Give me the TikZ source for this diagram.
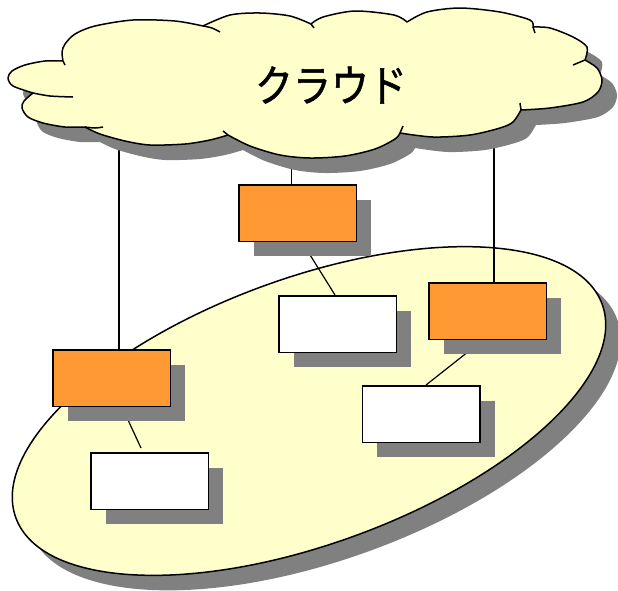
\documentclass[tikz,border=0pt]{standalone}
\usepackage{fontspec}
\usepackage{graphicx}
\newfontfamily\jpfont[FakeBold=1.2]{Noto Sans CJK JP}
\usetikzlibrary{shadows,calc}
\definecolor{cloudfill}{HTML}{FFFFCC}
\definecolor{boxorange}{HTML}{FF9933}
\definecolor{shadowgray}{HTML}{808080}
\pgfdeclarelayer{back}
\pgfdeclarelayer{mid}
\pgfsetlayers{back,mid,main}
\tikzset{
  outl/.style={draw=black, line width=1.5pt},
  boxbase/.style={draw=black, line width=1.5pt, minimum width=117.5pt, minimum height=56.5pt, inner sep=0pt,
    drop shadow={shadow xshift=15pt, shadow yshift=-15pt, fill=shadowgray, opacity=1}},
  orangebox/.style={boxbase, fill=boxorange},
  whitebox/.style={boxbase, fill=white},
  conn/.style={draw=black, line width=1.2pt},
  inner/.style={draw=black, line width=1.5pt},
}
\def\cloudp{plot[smooth] coordinates {(203,26) (175,21) (133,20) (95,26) (75,34) (65,44) (62,52) (63,61)}
 -- plot[smooth] coordinates {(63,61) (45,61) (25,65) (12,71) (8,78) (13,86) (33,93)}
 -- plot[smooth] coordinates {(33,93) (24,101) (22,108) (28,117) (43,123) (65,127) (85,127)}
 -- plot[smooth] coordinates {(85,127) (100,134) (125,141) (150,145) (185,144) (210,140) (228,135)}
 -- plot[smooth] coordinates {(228,135) (250,146) (280,155) (310,158) (345,156) (375,149) (395,139) (400,133)}
 -- plot[smooth] coordinates {(400,133) (433,137) (470,135) (500,128) (513,122) (521,110)}
 -- plot[smooth] coordinates {(521,110) (550,108) (583,102) (598,92) (602,80) (597,68) (585,60)}
 -- plot[smooth] coordinates {(585,60) (587,47) (573,37) (550,28) (533,27)}
 -- plot[smooth] coordinates {(533,27) (530,20) (500,12) (460,8) (427,12) (407,22)}
 -- plot[smooth] coordinates {(407,22) (394,15) (355,11) (323,17) (311,24)}
 -- plot[smooth] coordinates {(311,24) (290,16) (260,13) (230,15) (203,26)}
 -- cycle}
\begin{document}
\begin{tikzpicture}[x=1pt,y=-1pt]
\useasboundingbox (0,0) rectangle (618,590);
% ellipse (network area)
\begin{pgfonlayer}{back}
  \fill[shadowgray, rotate around={20:(324,426)}] (324,426) ellipse [x radius=312, y radius=133];
  \filldraw[fill=cloudfill, outl, rotate around={20:(309,411)}] (309,411) ellipse [x radius=312, y radius=133];
\end{pgfonlayer}
% cloud
\fill[shadowgray, shift={(15,15)}] \cloudp;
\filldraw[fill=cloudfill, outl, line join=round] \cloudp;
\draw[inner] plot[smooth] coordinates {(203,26) (212,28) (220,32)};
\draw[inner] (63,61) -- (65,65);
\draw[inner] plot[smooth] coordinates {(33,93) (50,96) (73,97)};
\draw[inner] plot[smooth] coordinates {(85,127) (95,128) (103,127)};
\draw[inner] (228,135) -- (223,131);
\draw[inner] (400,133) -- (403,126);
\draw[inner] (521,110) -- (520,103);
\draw[inner] (585,60) -- (573,65);
\draw[inner] (533,27) -- (535,33);
\draw[inner] (311,24) -- (314,28);
\node[font=\jpfont\fontsize{38pt}{44pt}\selectfont, inner sep=0pt] (cloudtext) at (331,85) {\scalebox{1}[1.15]{クラウド}};
% boxes
\node[orangebox] (om) at (297.5,213) {};
\node[whitebox]  (w1) at (337.5,324) {};
\node[orangebox] (or) at (487.5,311) {};
\node[orangebox] (ol) at (111.5,378) {};
\node[whitebox]  (wr) at (421,414) {};
\node[whitebox]  (wl) at (149.5,481) {};
% connector anchors under the cloud
\coordinate (c1) at (119,140);
\coordinate (c2) at (291.5,150);
\coordinate (c3) at (494,140);
\begin{pgfonlayer}{mid}
  \draw[conn] (c1) -- (c1 |- ol.north);
  \draw[conn] (c2) -- (c2 |- om.north);
  \draw[conn] (c3) -- (c3 |- or.north);
  \draw[conn] ($(om.south)+(4.5,0)$) -- ($(w1.north)+(-2.5,0)$);
  \draw[conn] ($(or.south)+(-4.5,0)$) -- ($(wr.north)+(5,0)$);
  \draw[conn] ($(ol.south)+(10.5,0)$) -- ($(wl.north)+(-8.5,-4)$);
\end{pgfonlayer}
\end{tikzpicture}
\end{document}
